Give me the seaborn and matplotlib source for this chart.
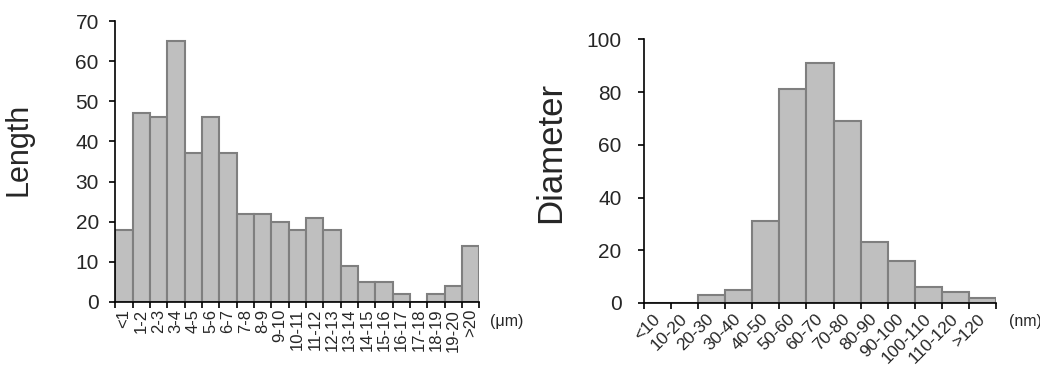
import numpy as np
import seaborn as sns
import matplotlib
matplotlib.use("Agg")
import matplotlib.pyplot as plt

# Length histogram (um)
length_bins = ['<1', '1-2', '2-3', '3-4', '4-5', '5-6', '6-7', '7-8', '8-9', '9-10',
               '10-11', '11-12', '12-13', '13-14', '14-15', '15-16', '16-17', '17-18',
               '18-19', '19-20', '>20']
length_counts = [18, 47, 46, 65, 37, 46, 37, 22, 22, 20, 18, 21, 18, 9, 5, 5, 2, 0, 2, 4, 14]

# Diameter histogram (nm)
diam_bins = ['<10', '10-20', '20-30', '30-40', '40-50', '50-60', '60-70', '70-80',
             '80-90', '90-100', '100-110', '110-120', '>120']
diam_counts = [0, 0, 3, 5, 31, 81, 91, 69, 23, 16, 6, 4, 2]

sns.set_style("white")
plt.rcParams['font.family'] = ['Liberation Sans', 'DejaVu Sans']

fig = plt.figure(figsize=(10.4, 3.65), dpi=100)
ax1 = fig.add_axes([0.111, 0.173, 0.350, 0.769])
ax2 = fig.add_axes([0.619, 0.170, 0.339, 0.722])

bar_kw = dict(color='#BFBFBF', edgecolor='#7F7F7F', linewidth=1.5, width=1, saturation=1)


def style_axis(ax, n, ymax, ystep, ypad):
    ax.set_xlim(-0.5, n - 0.5)
    ax.set_ylim(0, ymax)
    ax.set_yticks(np.arange(0, ymax + 1, ystep))
    ax.set_xticks(np.arange(-0.5, n), minor=True)
    sns.despine(ax=ax)
    for s in ['left', 'bottom']:
        ax.spines[s].set_color('black')
        ax.spines[s].set_linewidth(1.2)
    ax.tick_params(axis='x', which='major', length=0)
    ax.tick_params(axis='x', which='minor', length=4, width=1.2, direction='out', color='black')
    ax.tick_params(axis='x', which='both', bottom=True)
    ax.tick_params(axis='y', length=4, width=1.2, direction='out', color='black',
                   left=True, labelsize=15, pad=ypad)
    ax.set_xlabel('')


# left panel: length
sns.barplot(x=length_bins, y=length_counts, ax=ax1, **bar_kw)
style_axis(ax1, len(length_bins), 70, 10, 8)
ax1.set_xticks(range(len(length_bins)))
ax1.set_xticklabels(length_bins, rotation=90, fontsize=12, va='top', ha='center')
ax1.tick_params(axis='x', which='major', pad=5)
ax1.set_ylabel('Length', fontsize=22)
ax1.yaxis.set_label_coords(-0.224, 0.544)
ax1.text(1.03, -0.07, '(μm)', transform=ax1.transAxes, fontsize=11.5, va='center', ha='left')

# right panel: diameter
sns.barplot(x=diam_bins, y=diam_counts, ax=ax2, **bar_kw)
style_axis(ax2, len(diam_bins), 100, 20, 12)
ax2.set_xticks(range(len(diam_bins)))
ax2.set_xticklabels(diam_bins, rotation=45, fontsize=12.5, ha='right', va='center',
                    rotation_mode='anchor')
ax2.tick_params(axis='x', which='major', pad=10)
ax2.set_ylabel('Diameter', fontsize=25)
ax2.yaxis.set_label_coords(-0.216, 0.571)
ax2.text(1.035, -0.07, '(nm)', transform=ax2.transAxes, fontsize=11.5, va='center', ha='left')

fig.savefig('out.png', dpi=100)
